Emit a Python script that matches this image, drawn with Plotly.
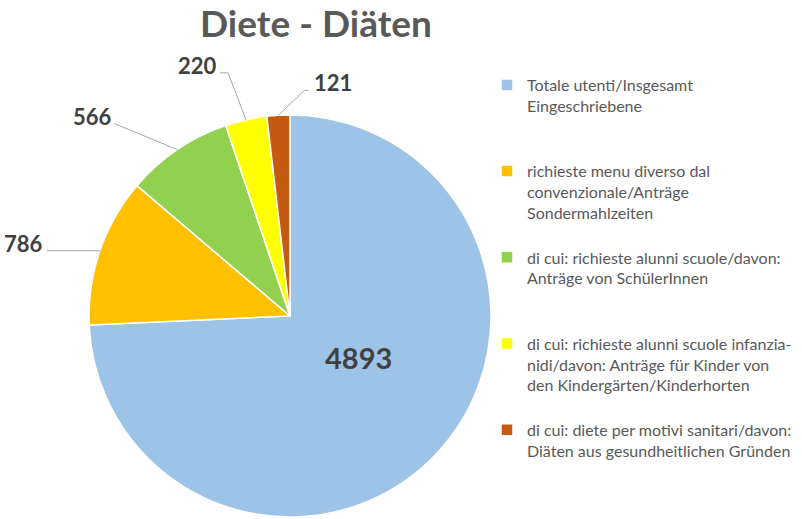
import math
import plotly.graph_objects as go

title = "Diete - Diäten"
labels = [
    "Totale utenti/Insgesamt<br>Eingeschriebene",
    "richieste menu diverso dal<br>convenzionale/Anträge<br>Sondermahlzeiten",
    "di cui: richieste alunni scuole/davon:<br>Anträge von SchülerInnen",
    "di cui: richieste alunni scuole infanzia-<br>nidi/davon: Anträge für Kinder von<br>den Kindergärten/Kinderhorten",
    "di cui: diete per motivi sanitari/davon:<br>Diäten aus gesundheitlichen Gründen",
]
values = [4893, 786, 566, 220, 121]
colors = ["#9DC3E6", "#FFC000", "#92D050", "#FFFF00", "#C55A11"]

W, H = 802, 519
CX, CY, R = 290, 316, 201  # pie centre/radius in figure pixels

# pad legend entries to equal line count so spacing is uniform
maxlines = 4
leg_labels = []
for lab in labels:
    n = lab.count("<br>") + 1
    leg_labels.append(lab + "<br> " * (maxlines - n))

fig = go.Figure(go.Pie(
    labels=leg_labels,
    values=values,
    sort=False,
    direction="clockwise",
    rotation=0,
    marker=dict(colors=colors, line=dict(color="white", width=1.5)),
    textinfo="none",
    hoverinfo="value",
    domain=dict(x=[(CX - R) / W, (CX + R) / W], y=[(H - CY - R) / H, (H - CY + R) / H]),
))

def px(x, y):
    return x / W, 1 - y / H

# label placement offsets (pixels) relative to the slice's edge midpoint
label_off = [None, (-76, -7), (-85, -33), (-49, -54), (55, -33)]
line_pts = [None, [(-53, 0)], [(-63, -26)], [(-18, -47), (-26, -47)], [(26, -25), (30, -25)]]

total = sum(values)
cum = 0
annotations = []
shapes = []
for i, v in enumerate(values):
    a0 = cum / total * 2 * math.pi
    cum += v
    a1 = cum / total * 2 * math.pi
    mid = (a0 + a1) / 2
    if label_off[i] is None:
        ang = mid - 0.215
        d = 0.40 * R
        tx = CX + d * math.sin(ang)
        ty = CY - d * math.cos(ang)
        x, y = px(tx, ty)
        annotations.append(dict(x=x, y=y, xref="paper", yref="paper", text=f"<b>{v}</b>",
                                showarrow=False, font=dict(size=29, color="#404040", family="Lato"),
                                xanchor="center", yanchor="middle"))
        continue
    ex = CX + R * math.sin(mid)
    ey = CY - R * math.cos(mid)
    dx, dy = label_off[i]
    x, y = px(ex + dx, ey + dy)
    annotations.append(dict(x=x, y=y, xref="paper", yref="paper", text=f"<b>{v}</b>",
                            showarrow=False, font=dict(size=22, color="#404040", family="Lato"),
                            xanchor="center", yanchor="middle"))
    pts = [(ex, ey)] + [(ex + ox, ey + oy) for ox, oy in line_pts[i]]
    path = "M " + " L ".join(f"{px(a, b)[0]:.5f},{px(a, b)[1]:.5f}" for a, b in pts)
    shapes.append(dict(type="path", path=path, xref="paper", yref="paper",
                       line=dict(color="#A6A6A6", width=1)))

annotations.append(dict(x=316 / W, y=1 - 23 / H, xref="paper", yref="paper",
                        text=f"<b>{title}</b>", showarrow=False,
                        font=dict(size=37, color="#595959", family="Lato"),
                        xanchor="center", yanchor="middle"))

fig.update_layout(
    width=W, height=H,
    margin=dict(l=0, r=0, t=0, b=0),
    paper_bgcolor="white",
    showlegend=True,
    legend=dict(x=487 / W, y=1 - 68 / H, xanchor="left", yanchor="top",
                valign="top",
                font=dict(size=16, color="#595959", family="Lato"),
                bgcolor="rgba(0,0,0,0)"),
    annotations=annotations,
    shapes=shapes,
)

fig.write_html("out.html", config={"displayModeBar": False},
               post_script="document.body.style.margin='0';")
